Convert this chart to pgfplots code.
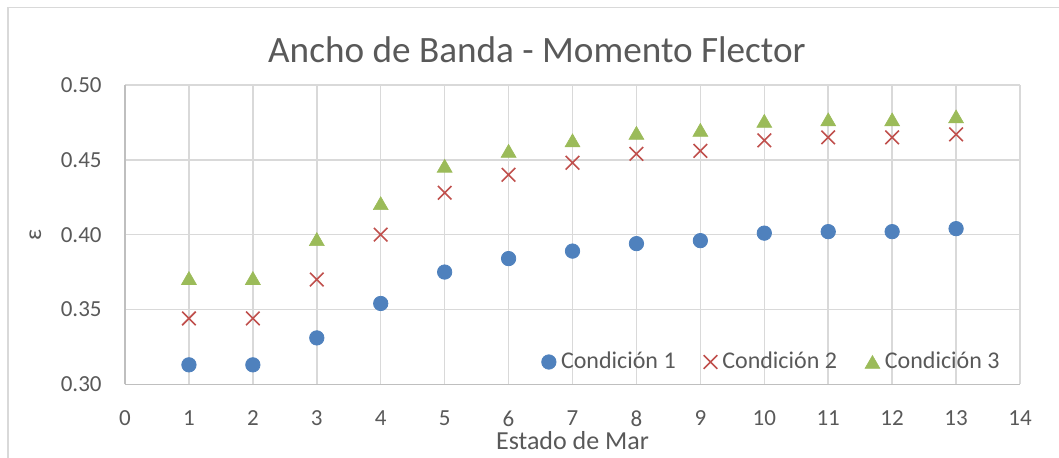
\documentclass[border=0pt]{standalone}
\usepackage{fontspec}
\setmainfont{Carlito}
\usepackage{pgfplots}
\pgfplotsset{compat=1.18}
\definecolor{txt}{HTML}{595959}
\definecolor{gridc}{HTML}{D9D9D9}
\definecolor{axc}{HTML}{BFBFBF}
\definecolor{c1}{HTML}{4F81BD}
\definecolor{c2}{HTML}{C0504D}
\definecolor{c3}{HTML}{9BBB59}
\pgfplotsset{mylegimg/.style={legend image code/.code={\draw[##1] plot coordinates {(0pt,0pt)};}}}
\begin{document}
\begin{tikzpicture}
\useasboundingbox (0,0) rectangle (529.5pt,229pt);
\draw[gridc, line width=0.75pt] (4pt,0) -- (4pt,225.25pt) -- (529.5pt,225.25pt);
\begin{axis}[
  at={(62.5pt,36.85pt)}, anchor=south west,
  scale only axis, width=447.5pt, height=149.65pt,
  xmin=0, xmax=14, ymin=0.30, ymax=0.50,
  xtick={0,1,...,14}, ytick={0.30,0.35,0.40,0.45,0.50},
  grid=major, major grid style={gridc, line width=0.75pt},
  axis lines=left, axis line style={axc, line width=0.75pt, -},
  major tick length=0pt,
  clip=false,
  tick label style={font=\fontsize{11.5}{13}\selectfont, text=txt},
  /pgf/number format/assume math mode=true,
  yticklabel style={/pgf/number format/fixed, /pgf/number format/fixed zerofill, /pgf/number format/precision=2, anchor=east, inner sep=0pt, xshift=-11.5pt},
  xticklabel style={anchor=north, inner sep=0pt, yshift=-13pt},
  xlabel={Estado de Mar},
  xlabel style={at={(axis description cs:0.5,0)}, anchor=base, yshift=-32.85pt, inner sep=0pt, font=\fontsize{13}{15}\selectfont, text=txt},
  ylabel={ε},
  ylabel style={at={(axis description cs:-0.1,0.5)}, anchor=center, inner sep=0pt, font=\fontsize{12}{14}\selectfont, text=txt},
  every axis title shift=0pt,
  title={Ancho de Banda - Momento Flector},
  title style={at={(axis description cs:0.4603,1)}, anchor=base, yshift=11.1pt, inner sep=0pt, font=\fontsize{18.6}{22}\selectfont, text=txt},
  legend columns=3,
  legend style={at={(axis description cs:0.981,0.0745)}, anchor=east, draw=none, fill=none, inner sep=0pt,
    font=\fontsize{12}{14}\selectfont, text=txt,
    nodes={inner sep=1.5pt},
    /tikz/every odd column/.append style={column sep=1pt},
    /tikz/every even column/.append style={column sep=12.5pt}},
]
\addplot[only marks, mark=*, mark size=3.6pt, mark options={draw=c1, fill=c1, line width=0.4pt}, mylegimg]
  coordinates {(1,0.313)(2,0.313)(3,0.331)(4,0.354)(5,0.375)(6,0.384)(7,0.389)(8,0.394)(9,0.396)(10,0.401)(11,0.402)(12,0.402)(13,0.404)};
\addlegendentry{Condición 1}
\addplot[only marks, mark=x, mark size=4.8pt, mark options={draw=c2, line width=0.8pt}, mylegimg]
  coordinates {(1,0.344)(2,0.344)(3,0.370)(4,0.400)(5,0.428)(6,0.440)(7,0.448)(8,0.454)(9,0.456)(10,0.463)(11,0.465)(12,0.465)(13,0.467)};
\addlegendentry{Condición 2}
\addplot[only marks, mark=triangle*, mark size=4.3pt, mark options={draw=c3, fill=c3, line width=0.3pt, yshift=-1.07pt}, mylegimg]
  coordinates {(1,0.371)(2,0.371)(3,0.397)(4,0.421)(5,0.446)(6,0.456)(7,0.463)(8,0.468)(9,0.470)(10,0.476)(11,0.477)(12,0.477)(13,0.479)};
\addlegendentry{Condición 3}
\end{axis}
\end{tikzpicture}
\end{document}
